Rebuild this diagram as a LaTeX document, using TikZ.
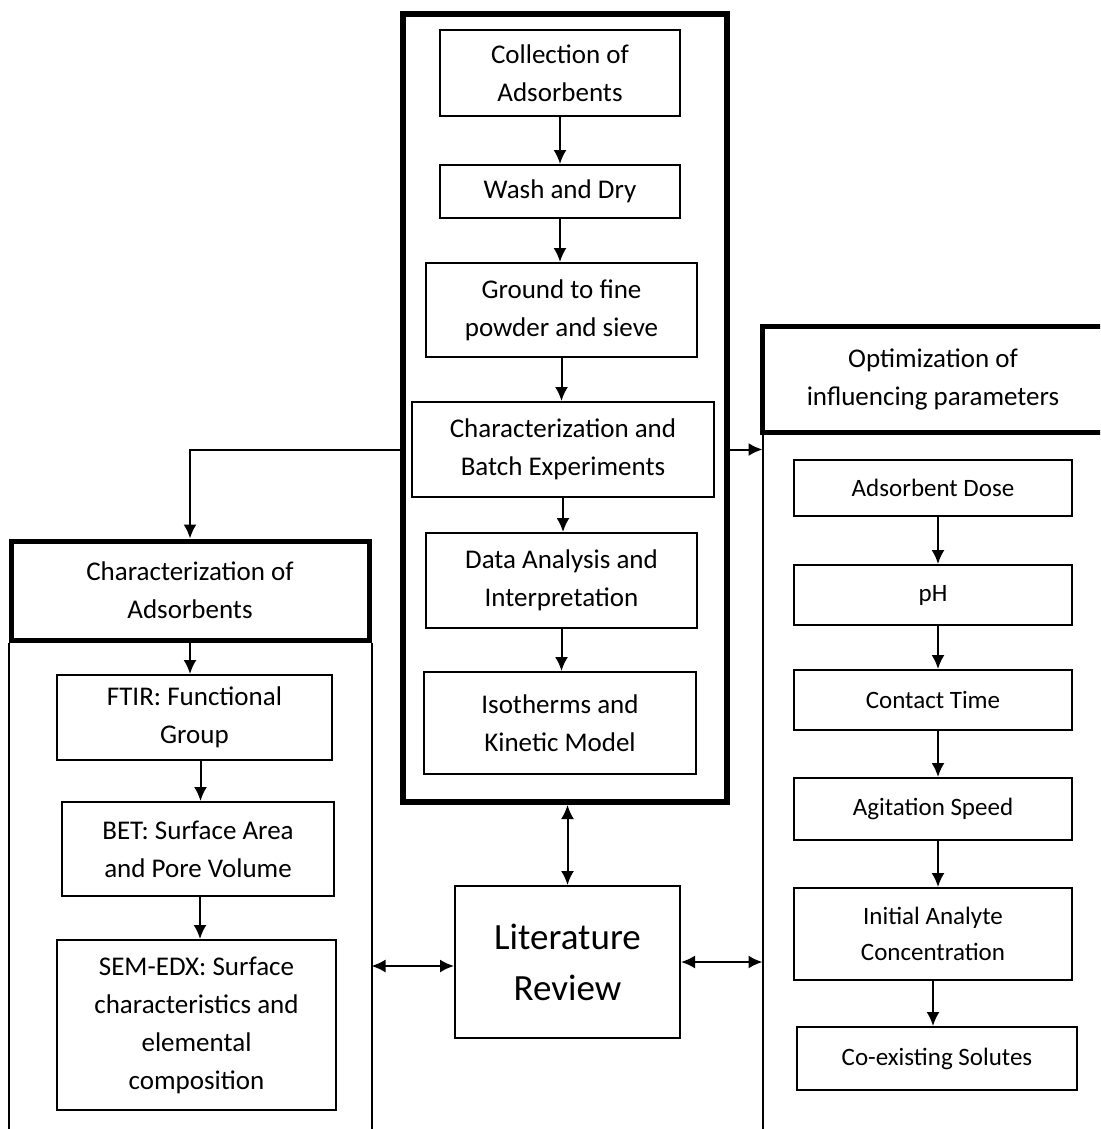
\documentclass[tikz,border=0pt]{standalone}
\usepackage{fontspec}
\setmainfont{Carlito}
\usetikzlibrary{arrows.meta,positioning,calc}

\begin{document}
\begin{tikzpicture}[
    x=1pt, y=-1pt,
    stepbox/.style={draw, line width=2pt, inner sep=0pt, align=center,
                font=\fontsize{27}{38}\selectfont},
    headbox/.style={draw, line width=5pt, inner sep=0pt, align=center,
                font=\fontsize{27}{38}\selectfont},
    parbox/.style={stepbox, font=\fontsize{25}{36}\selectfont},
    arr/.style={-{Latex[length=14pt,width=13pt]}, line width=2pt},
    dbl/.style={{Latex[length=14pt,width=13pt]}-{Latex[length=14pt,width=13pt]}, line width=2pt}
]
    \useasboundingbox (0,0) rectangle (1100,1129);
    \clip (0,0) rectangle (1100,1129);

    % experimental work
    \node[draw, line width=6pt, minimum width=324pt, minimum height=788pt] (lab) at (565,408) {};
    \node[stepbox, minimum width=240pt, minimum height=86pt] (collect) at (560,73) {Collection of\\Adsorbents};
    \node[stepbox, minimum width=240pt, minimum height=53pt] (wash) at (560,191.5) {Wash and Dry};
    \node[stepbox, minimum width=271pt, minimum height=94pt] (ground) at (561.5,310) {Ground to fine\\powder and sieve};
    \node[stepbox, minimum width=302pt, minimum height=95pt] (batch) at (563,449.5) {Characterization and\\Batch Experiments};
    \node[stepbox, minimum width=271pt, minimum height=95pt] (analysis) at (561.5,580.5) {Data Analysis and\\Interpretation};
    \node[stepbox, minimum width=272pt, minimum height=102pt] (isotherm) at (560,723) {Isotherms and\\Kinetic Model};

    \draw[arr] (collect.south) -- (collect.south |- wash.north);
    \draw[arr] (wash.south) -- (wash.south |- ground.north);
    \draw[arr] (ground.south) -- (ground.south |- batch.north);
    \draw[arr] (batch.south) -- (batch.south |- analysis.north);
    \draw[arr] (analysis.south) -- (analysis.south |- isotherm.north);

    \node[stepbox, minimum width=225pt, minimum height=152pt,
          font=\fontsize{37}{51}\selectfont] (lit) at (567.5,962) {Literature\\Review};

    % characterization
    \node[headbox, minimum width=358pt, minimum height=99pt] (charads) at (190,590.5) {Characterization of\\Adsorbents};
    \draw[line width=2pt] (charads.south west) -- ++(0,520);
    \draw[line width=2pt] (charads.south east) -- ++(0,520);
    \node[stepbox, minimum width=275pt, minimum height=85pt] (ftir) at (194.5,717.5) {FTIR: Functional\\Group};
    \node[stepbox, minimum width=272pt, minimum height=94pt] (bet) at (198,849) {BET: Surface Area\\and Pore Volume};
    \node[stepbox, minimum width=279pt, minimum height=170pt] (sem) at (196.5,1025) {SEM-EDX: Surface\\characteristics and\\elemental\\composition};

    \draw[arr] (charads.south) -- (charads.south |- ftir.north);
    \draw[arr] ([xshift=6pt]ftir.south) -- ([xshift=6pt]ftir.south |- bet.north);
    \draw[arr] ([xshift=2pt]bet.south) -- ([xshift=2pt]bet.south |- sem.north);

    % parameters
    \node[headbox, minimum width=342pt, minimum height=106pt] (optim) at (933,379) {Optimization of\\influencing parameters};
    \draw[line width=2pt] ([xshift=3pt]optim.south west) coordinate (rline) -- ++(0,720);
    \node[parbox, minimum width=278pt, minimum height=56pt] (dose) at (933,488) {Adsorbent Dose};
    \node[parbox, minimum width=278pt, minimum height=60pt] (ph) at (933,595) {pH};
    \node[parbox, minimum width=278pt, minimum height=60pt] (contact) at (933,700) {Contact Time};
    \node[parbox, minimum width=278pt, minimum height=62pt] (agit) at (933,809) {Agitation Speed};
    \node[parbox, minimum width=278pt, minimum height=92pt] (initial) at (933,934) {Initial Analyte\\Concentration};
    \node[parbox, minimum width=280pt, minimum height=63pt] (cosol) at (937,1058.5) {Co-existing Solutes};

    \draw[arr] ([xshift=5pt]dose.south) -- ([xshift=5pt]dose.south |- ph.north);
    \draw[arr] ([xshift=5pt]ph.south) -- ([xshift=5pt]ph.south |- contact.north);
    \draw[arr] ([xshift=5pt]contact.south) -- ([xshift=5pt]contact.south |- agit.north);
    \draw[arr] ([xshift=5pt]agit.south) -- ([xshift=5pt]agit.south |- initial.north);
    \draw[arr] (initial.south) -- (initial.south |- cosol.north);

    % links
    \draw[arr] (lab.west |- batch) -| (charads.north);
    \draw[arr] (lab.east |- batch) -- (rline |- batch);
    \draw[dbl] (lab.south -| lit) -- (lit.north);
    \draw[dbl] (charads.east |- 0,966) -- (lit.west |- 0,966);
    \draw[dbl] (lit.east) -- (rline |- lit.east);
\end{tikzpicture}
\end{document}
